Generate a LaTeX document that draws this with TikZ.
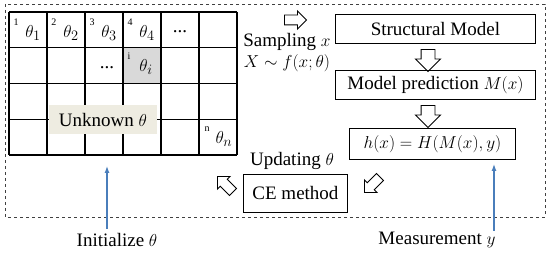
\documentclass[tikz,border=0pt]{standalone}
\usepackage{fontspec}
\setmainfont{Liberation Serif}
\usetikzlibrary{arrows.meta,shapes.arrows}
\definecolor{cellgray}{HTML}{D9D9D9}
\definecolor{unkfill}{HTML}{EEECE1}
\definecolor{measblue}{HTML}{4A7EBB}
\definecolor{framegray}{HTML}{404040}

\begin{document}
\begin{tikzpicture}[
  x=1pt, y=-1pt,
  font=\fontsize{19}{22}\selectfont,
  box/.style={draw=black, line width=0.9pt, inner sep=0pt, anchor=north west},
  hollow/.style={draw=black, fill=white, line width=0.9pt, single arrow,
    minimum height=22pt, inner xsep=0pt, inner ysep=4.5pt,
    single arrow head extend=4pt, font=\fontsize{1}{1}\selectfont},
  wide hollow/.style={hollow, inner ysep=6.5pt, single arrow head extend=5.5pt},
  blue arrow/.style={-{Latex[length=7pt,width=5pt]}, line width=1.2pt, draw=measblue},
  idx/.style={font=\fontsize{10}{12}\selectfont, inner sep=0pt},
  theta/.style={inner sep=0pt}
]
\useasboundingbox (0,0) rectangle (550,254);

% frame
\draw[framegray, dashed, line width=0.8pt] (5,4) rectangle (545,217);

% grid of unknowns
\fill[cellgray] (123,47) rectangle (161,83);
\foreach \c in {0,...,6}
  \draw[line width=1.1pt] (9+38*\c,12) -- (9+38*\c,155);
\foreach \r in {0,...,4}
  \draw[line width=1.1pt] (9,12+35.75*\r) -- (237,12+35.75*\r);
\foreach \k in {1,...,4}{
  \node[idx] (i\k) at (16+38*\k-38,22) {\k};
  \node[theta] (t\k) at (33+38*\k-38,33) {$\theta_{\k}$};
}
\node (dotsa) at (180,32) {...};
\node (dotsb) at (107,68) {...};
\node[idx] (ii) at (129,56) {i};
\node[theta] (ti) at (146,67) {$\theta_i$};
\node[idx] (in) at (207,129) {n};
\node[theta] (tn) at (224,139) {$\theta_n$};
\node[fill=unkfill, minimum width=108pt, minimum height=29pt, inner sep=0pt]
  (unknown) at (103,120) {Unknown $\theta$};

% sampling
\node[hollow] (arrsamp) at (293,20) {};
\node[inner sep=1pt] (samp) at (287,42) {Sampling $x$};
\node[inner sep=1pt] (dist) at (287,63) {$X\sim f(x;\theta)$};

% model chain
\node[box, minimum width=200pt, minimum height=29pt] (struct) at (335,14) {};
\node (structtxt) at (struct.center) {Structural Model};
\node[wide hollow, rotate=-90] (arrdown1) at (428,57) {};
\node[box, minimum width=200pt, minimum height=29pt] (pred) at (335,70) {};
\node (predtxt) at (pred.center) {Model prediction $M(x)$};
\node[wide hollow, rotate=-90] (arrdown2) at (428,113) {};
\node[box, minimum width=166pt, minimum height=31pt] (hbox) at (349,128) {};
\node (htxt) at (hbox.center) {$h(x)=H(M(x),y)$};
\node[hollow, rotate=225] (arrdiag) at (374,183) {};
\node[box, minimum width=104pt, minimum height=38pt] (ce) at (243,174) {};
\node (cetxt) at (ce.center) {CE method};
\node (upd) at (292,161) {Updating $\theta$};
\node[hollow, rotate=135] (arrback) at (227,186) {};

% inputs
\node (init) at (117,240) {Initialize $\theta$};
\coordinate (inittail) at (107,229);
\coordinate (inittip) at (107,166);
\draw[blue arrow] (inittail) -- (inittip);
\node (meas) at (437,240) {Measurement $y$};
\coordinate (meastail) at (494,231);
\coordinate (meastip) at (494,164);
\draw[blue arrow] (meastail) -- (meastip);
\end{tikzpicture}
\end{document}
